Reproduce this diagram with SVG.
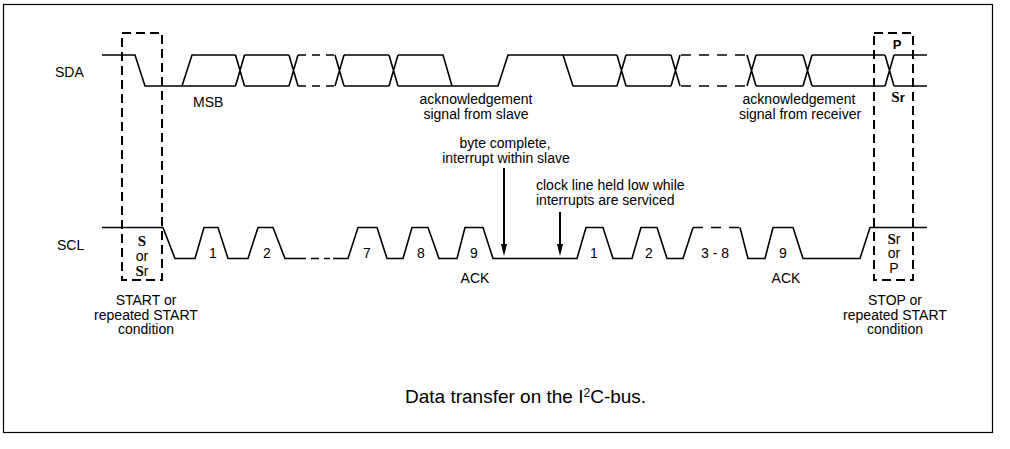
<svg xmlns="http://www.w3.org/2000/svg" width="1010" height="449" viewBox="0 0 1010 449">
<defs>
<style>
.sig{fill:none;stroke:#000;stroke-width:1.6;stroke-linejoin:miter}
.d1{stroke-dasharray:8 6}
.d2{stroke-dasharray:10 8}
.box{fill:none;stroke:#000;stroke-width:2;stroke-dasharray:9 5}
.frame{fill:none;stroke:#000;stroke-width:1.2}
.arrow{fill:none;stroke:#000;stroke-width:2;marker-end:url(#ah)}
text{font-family:"Liberation Sans",Arial,sans-serif;font-size:14px;fill:#000}
.mid{text-anchor:middle}
.sb{font-family:"Liberation Serif","Times New Roman",serif;font-weight:bold;font-size:15px}
.bs{font-weight:bold;font-size:13px}
.num{font-size:14px;text-anchor:middle}
</style>
<marker id="ah" markerUnits="userSpaceOnUse" markerWidth="12" markerHeight="6" viewBox="0 0 12 6" refX="4" refY="3" orient="auto">
<path d="M0,0L12,3L0,6z" fill="#000"/>
</marker>
</defs>
<rect x="0" y="0" width="1010" height="449" fill="#fff"/>
<g id="frame"><rect class="frame" x="3.5" y="4.5" width="989" height="428"/></g>

<g id="sda">
<text x="55" y="77">SDA</text>
<path class="sig" d="M102,55H135L145,86H235.5 M182,86L192,55H235.5 M235.5,55L244.5,86 M235.5,86L244.5,55 M244.5,55H289 M244.5,86H289 M289,55L298,86 M289,86L298,55 M335,55L344,86 M335,86L344,55 M344,55H389 M344,86H389 M389,55L398,86 M389,86L398,55 M398,55H443L452,86 M398,86H498L508,55H617 M563,55L573,86H617 M617,55L626,86 M617,86L626,55 M626,55H671 M626,86H671 M671,55L680,86 M671,86L680,55 M747,55L756,86 M747,86L756,55 M756,55H803 M756,86H803 M803,55L812,86 M803,86L812,55 M812,55H885 M812,86H885 M885,55L894,86 M885,86L894,55 M894,55H927 M894,86H927"/>
<path class="sig d1" d="M298,55H336 M298,86H336"/>
<path class="sig d2" d="M681,55H747 M681,86H747"/>
<text x="193" y="107">MSB</text>
</g>

<g id="scl">
<text x="57" y="250">SCL</text>
<path class="sig" d="M102,227.5H163L175,258.5H195L204,227.5H218L228,258.5H248L258,227.5H273L285,258.5H306 M311,258.5H319 M324,258.5H330 M333,258.5H348L358,227.5H377L387,258.5H403L412,227.5H428L439,258.5H457L465,227.5H483L493,258.5H577L586,227.5H603L613,258.5H632L641,227.5H657L667,258.5H683L693,227.5 M740,227.5L748,258.5H765L773,227.5H793L803,258.5H860L870,227.5H927"/>
<path class="sig d2" d="M693,227.5H741"/>
<text class="num" x="213" y="258">1</text>
<text class="num" x="267" y="258">2</text>
<text class="num" x="367" y="258">7</text>
<text class="num" x="421" y="258">8</text>
<text class="num" x="474" y="258">9</text>
<text class="num" x="594" y="258">1</text>
<text class="num" x="649" y="258">2</text>
<text class="num" x="715" y="258">3 - 8</text>
<text class="num" x="783" y="258">9</text>
<text class="mid" x="475" y="283">ACK</text>
<text class="mid" x="786" y="283">ACK</text>
</g>

<g id="start-condition">
<rect class="box" x="122" y="33" width="40" height="247"/>
<text class="mid" x="142" y="246"><tspan class="sb">S</tspan></text>
<text class="mid" x="142" y="261">or</text>
<text class="mid" x="142" y="276"><tspan class="sb">S</tspan>r</text>
<text class="mid" x="146" y="305">START or</text>
<text class="mid" x="146" y="320">repeated START</text>
<text class="mid" x="146" y="334">condition</text>
</g>

<g id="stop-condition">
<rect class="box" x="874" y="33" width="39" height="247"/>
<text class="mid bs" x="897" y="49">P</text>
<text class="mid" x="898" y="102"><tspan class="sb">S</tspan><tspan class="bs">r</tspan></text>
<text class="mid" x="894" y="244"><tspan class="sb">S</tspan>r</text>
<text class="mid" x="894" y="258">or</text>
<text class="mid" x="894" y="273">P</text>
<text class="mid" x="895" y="305">STOP or</text>
<text class="mid" x="895" y="320">repeated START</text>
<text class="mid" x="895" y="334">condition</text>
</g>

<g id="ack-slave">
<text class="mid" x="476" y="104">acknowledgement</text>
<text class="mid" x="476" y="119">signal from slave</text>
</g>
<g id="ack-receiver">
<text class="mid" x="799" y="104">acknowledgement</text>
<text class="mid" x="800" y="119">signal from receiver</text>
</g>
<g id="byte-complete">
<text class="mid" x="505" y="148">byte complete,</text>
<text class="mid" x="506" y="163">interrupt within slave</text>
</g>
<g id="clock-held">
<text x="536" y="190">clock line held low while</text>
<text x="536" y="205">interrupts are serviced</text>
</g>

<g id="connectors">
<line class="arrow" x1="504" y1="168" x2="504" y2="248"/>
<line class="arrow" x1="560" y1="212" x2="560" y2="248"/>
</g>

<g id="caption">
<text x="405" y="403" style="font-size:19px">Data transfer on the I<tspan style="font-size:12px" dy="-6">2</tspan><tspan dy="6">C-bus.</tspan></text>
</g>
</svg>
